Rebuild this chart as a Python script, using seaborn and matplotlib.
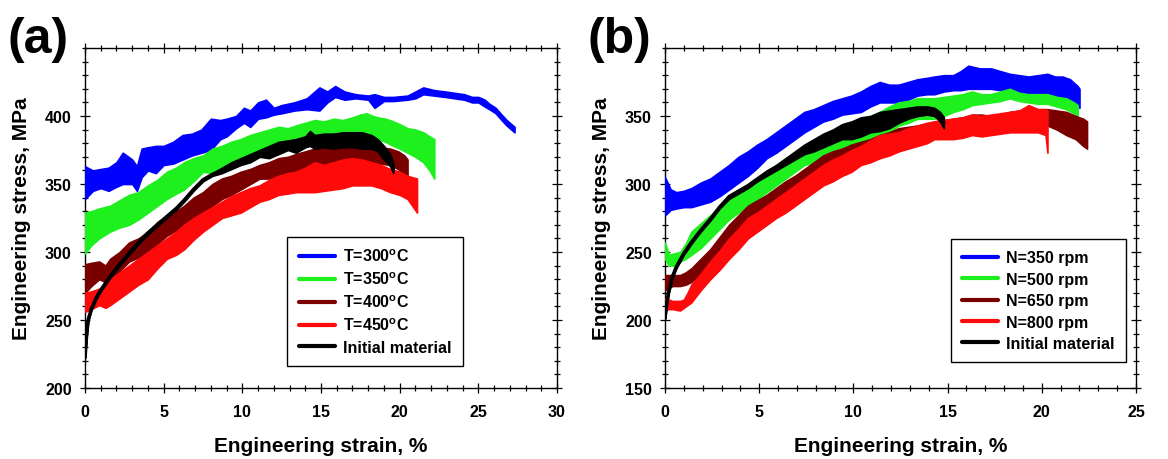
import matplotlib
matplotlib.use("Agg")
import matplotlib.pyplot as plt
import pandas as pd
import seaborn as sns
from matplotlib.lines import Line2D
from matplotlib.ticker import MultipleLocator, FixedLocator

# ---------------- (a) effect of temperature ----------------
t300_strain = [0, 0.5, 1.0, 1.5, 2.0, 2.4, 3.0, 3.3, 3.6, 4.0, 4.5, 5.0, 5.6, 6.2, 6.8, 7.4, 8.0, 8.6, 9.0, 9.6,
               10.1, 10.5, 11.0, 11.5, 12.0, 12.5, 13.3, 14.1, 14.9, 15.4, 15.9, 16.5, 17.2, 18.0, 18.4, 19.0,
               19.6, 20.5, 21.0, 21.5, 22.2, 22.9, 23.5, 24.1, 24.6, 25.0, 25.4, 25.7, 26.1, 26.4, 26.8, 27.3]
t300_hi = [363, 360, 361, 362, 366, 373, 368, 363, 376, 377, 378, 378, 381, 386, 387, 390, 398, 397, 398, 400,
           406, 404, 410, 412, 406, 408, 410, 413, 421, 418, 422, 418, 416, 415, 416, 414, 414, 415, 418, 421,
           419, 418, 417, 416, 414, 414, 412, 409, 406, 402, 397, 392]
t300_lo = [339, 345, 347, 345, 348, 350, 350, 345, 355, 360, 358, 364, 365, 368, 371, 373, 375, 383, 385, 391,
           395, 392, 398, 399, 401, 402, 404, 405, 404, 410, 414, 412, 413, 412, 406, 411, 411, 412, 413, 416,
           415, 414, 413, 412, 410, 410, 407, 405, 402, 398, 393, 388]

t350_strain = [0, 0.4, 0.9, 1.6, 2.2, 2.8, 3.4, 4.0, 4.6, 5.2, 5.8, 6.3, 6.9, 7.5, 8.1, 8.7, 9.3, 9.9, 10.5, 11.1,
               11.7, 12.3, 12.9, 13.4, 14.0, 14.6, 15.2, 15.8, 16.4, 17.0, 17.5, 17.9, 18.3, 18.6, 19.1, 19.6,
               20.0, 20.5, 21.0, 21.5, 21.9, 22.2]
t350_hi = [329, 330, 332, 334, 338, 342, 344, 349, 353, 359, 362, 366, 369, 371, 376, 378, 381, 383, 386, 388,
           390, 392, 391, 393, 395, 397, 396, 398, 397, 399, 401, 402, 400, 399, 398, 396, 394, 391, 390, 388,
           385, 383]
t350_lo = [299, 305, 310, 315, 318, 320, 324, 329, 334, 339, 343, 346, 352, 359, 358, 361, 366, 369, 371, 373,
           375, 376, 377, 378, 381, 383, 384, 386, 385, 386, 387, 388, 386, 383, 381, 378, 376, 373, 370, 366,
           360, 354]

t400_strain = [0, 0.4, 0.9, 1.3, 1.6, 2.2, 2.8, 3.4, 4.0, 4.6, 5.2, 5.8, 6.3, 6.9, 7.5, 8.1, 8.7, 9.3, 9.9, 10.5,
               11.1, 11.7, 12.3, 12.9, 13.4, 14.0, 14.6, 15.2, 15.8, 16.4, 17.0, 17.6, 18.2, 18.8, 19.4, 19.9,
               20.3, 20.5]
t400_hi = [291, 292, 293, 290, 295, 300, 307, 310, 315, 322, 327, 330, 334, 340, 344, 350, 354, 356, 359, 361,
           364, 366, 369, 370, 372, 374, 376, 377, 378, 379, 381, 380, 378, 377, 376, 374, 371, 368]
t400_lo = [270, 275, 280, 278, 280, 286, 293, 296, 300, 306, 312, 316, 320, 325, 329, 334, 339, 342, 346, 350,
           354, 354, 354, 357, 359, 360, 361, 361, 361, 362, 364, 365, 366, 365, 364, 361, 356, 352]

t450_strain = [0, 0.4, 0.9, 1.3, 1.6, 2.2, 2.8, 3.4, 4.0, 4.6, 5.2, 5.8, 6.3, 6.9, 7.5, 8.1, 8.7, 9.3, 9.9, 10.5,
               11.1, 11.7, 12.3, 12.9, 13.4, 14.0, 14.6, 15.2, 15.8, 16.4, 17.0, 17.6, 18.2, 18.8, 19.4, 20.0,
               20.5, 20.8, 21.1]
t450_hi = [270, 271, 273, 276, 280, 285, 290, 295, 300, 305, 310, 315, 320, 325, 329, 333, 337, 341, 344, 347,
           349, 353, 356, 358, 359, 362, 366, 364, 366, 368, 369, 368, 366, 364, 361, 359, 356, 355, 354]
t450_lo = [256, 258, 261, 259, 261, 266, 271, 276, 280, 288, 295, 298, 302, 309, 315, 320, 325, 327, 329, 333,
           337, 339, 342, 343, 344, 344, 344, 345, 346, 347, 349, 349, 349, 347, 344, 342, 339, 334, 329]

initA_strain = [0, 0.1, 0.2, 0.4, 0.7, 1.0, 1.6, 2.2, 2.8, 3.4, 4.0, 4.6, 5.2, 5.8, 6.3, 6.9, 7.5, 8.1, 8.7, 9.3,
                9.9, 10.5, 11.1, 11.7, 12.3, 12.9, 13.4, 14.0, 14.3, 14.6, 15.2, 15.8, 16.4, 17.0, 17.6, 18.2,
                18.6, 19.0, 19.4, 19.6]
initA_hi = [223, 240, 251, 259, 267, 273, 283, 292, 300, 308, 315, 321, 327, 333, 339, 347, 354, 358, 362, 366,
            369, 372, 375, 378, 381, 382, 383, 385, 389, 386, 387, 387, 388, 388, 388, 386, 383, 378, 372, 365]
initA_lo = [222, 238, 249, 257, 265, 271, 281, 290, 298, 306, 313, 319, 325, 331, 337, 345, 352, 356, 358, 361,
            364, 366, 370, 369, 372, 375, 373, 377, 378, 376, 377, 376, 377, 377, 376, 376, 374, 368, 363, 358]

labels_a = [r"T=300$^{\mathbf{o}}$C", r"T=350$^{\mathbf{o}}$C", r"T=400$^{\mathbf{o}}$C",
            r"T=450$^{\mathbf{o}}$C", "Initial material"]
yticks_a = [200, 250, 300, 350, 400]

# ---------------- (b) effect of rotation speed ----------------
n350_strain = [0, 0.3, 0.6, 1.0, 1.4, 1.9, 2.4, 2.9, 3.4, 3.9, 4.4, 4.9, 5.4, 5.9, 6.4, 6.9, 7.4, 7.9, 8.4, 8.9,
               9.4, 9.9, 10.4, 10.9, 11.4, 11.9, 12.4, 12.9, 13.4, 13.9, 14.3, 14.8, 15.3, 15.7, 16.1, 16.7,
               17.3, 17.8, 18.3, 18.8, 19.3, 19.8, 20.3, 20.7, 21.1, 21.5, 21.9, 22.0]
n350_hi = [305, 296, 294, 295, 297, 301, 304, 309, 314, 320, 324, 329, 333, 338, 343, 348, 353, 355, 358, 361,
           363, 365, 368, 372, 375, 373, 373, 375, 377, 378, 379, 380, 380, 383, 387, 385, 385, 383, 381, 380,
           379, 380, 381, 379, 379, 377, 372, 370]
n350_lo = [277, 281, 282, 283, 283, 285, 287, 291, 296, 301, 306, 312, 319, 323, 328, 333, 338, 342, 346, 348,
           351, 352, 353, 357, 360, 360, 360, 362, 365, 366, 366, 368, 369, 369, 370, 370, 370, 369, 369, 368,
           366, 365, 365, 364, 363, 361, 358, 356]

n500_strain = [0, 0.2, 0.5, 0.8, 1.1, 1.4, 1.9, 2.4, 2.9, 3.4, 3.9, 4.4, 4.9, 5.4, 5.9, 6.4, 6.9, 7.4, 7.9, 8.4,
               8.9, 9.4, 9.9, 10.4, 10.9, 11.4, 11.9, 12.4, 12.9, 13.4, 13.9, 14.3, 14.8, 15.3, 15.8, 16.3,
               16.8, 17.3, 17.8, 18.3, 18.8, 19.3, 19.8, 20.3, 20.8, 21.3, 21.7, 21.9]
n500_hi = [257, 248, 249, 250, 256, 265, 271, 277, 283, 289, 294, 299, 304, 309, 314, 319, 322, 326, 330, 333,
           335, 338, 342, 348, 350, 353, 357, 360, 361, 363, 363, 363, 364, 365, 366, 368, 366, 366, 368, 370,
           367, 366, 366, 366, 364, 363, 360, 358]
n500_lo = [245, 240, 240, 243, 245, 248, 253, 260, 267, 274, 279, 284, 289, 294, 299, 304, 309, 314, 316, 319,
           321, 324, 326, 328, 330, 333, 338, 343, 345, 348, 348, 348, 350, 353, 355, 358, 359, 360, 361, 363,
           361, 360, 359, 359, 357, 355, 352, 350]

n650_strain = [0, 0.4, 0.8, 1.1, 1.4, 1.9, 2.4, 2.9, 3.4, 3.9, 4.4, 4.9, 5.4, 5.9, 6.4, 6.9, 7.4, 7.9, 8.4, 8.9,
               9.4, 9.9, 10.4, 10.9, 11.4, 11.9, 12.4, 12.9, 13.4, 13.9, 14.3, 14.8, 15.3, 15.8, 16.3, 16.8,
               17.3, 17.8, 18.3, 18.8, 19.3, 19.8, 20.3, 20.8, 21.3, 21.8, 22.2, 22.4]
n650_hi = [233, 233, 233, 235, 238, 245, 252, 261, 270, 277, 284, 288, 292, 297, 302, 306, 311, 316, 321, 324,
           326, 329, 331, 333, 336, 338, 341, 342, 343, 344, 346, 347, 348, 349, 351, 351, 350, 351, 353, 354,
           355, 355, 355, 354, 353, 350, 348, 346]
n650_lo = [222, 225, 225, 226, 228, 234, 240, 248, 255, 262, 267, 273, 279, 284, 289, 293, 297, 303, 309, 311,
           314, 316, 319, 321, 324, 326, 328, 330, 333, 335, 338, 338, 338, 340, 343, 342, 343, 343, 343, 344,
           346, 345, 343, 340, 336, 333, 328, 326]

n800_strain = [0, 0.4, 0.8, 1.0, 1.2, 1.4, 1.9, 2.4, 2.9, 3.4, 3.9, 4.4, 4.9, 5.4, 5.9, 6.4, 6.9, 7.4, 7.9, 8.4,
               8.9, 9.4, 9.9, 10.4, 10.9, 11.4, 11.9, 12.4, 12.9, 13.4, 13.9, 14.3, 14.8, 15.3, 15.8, 16.3,
               16.8, 17.3, 17.8, 18.3, 18.8, 19.3, 19.8, 20.2, 20.3]
n800_hi = [216, 214, 214, 215, 220, 226, 234, 243, 251, 260, 267, 275, 279, 284, 289, 294, 299, 304, 309, 314,
           318, 321, 325, 328, 332, 336, 337, 338, 341, 343, 345, 346, 347, 348, 349, 351, 350, 351, 352, 353,
           354, 358, 355, 355, 354]
n800_lo = [208, 208, 207, 209, 211, 213, 222, 230, 237, 245, 252, 260, 265, 270, 275, 279, 284, 289, 294, 299,
           302, 306, 309, 314, 316, 319, 321, 324, 326, 328, 330, 333, 333, 333, 334, 336, 335, 336, 337, 338,
           338, 338, 338, 336, 323]

initB_strain = [0, 0.1, 0.2, 0.4, 0.6, 1.0, 1.4, 1.9, 2.4, 2.9, 3.4, 3.9, 4.4, 4.9, 5.4, 5.9, 6.4, 6.9, 7.4, 7.9,
                8.4, 8.9, 9.4, 9.9, 10.4, 10.9, 11.4, 11.9, 12.4, 12.9, 13.4, 13.9, 14.3, 14.6, 14.8]
initB_hi = [202, 214, 222, 233, 240, 250, 258, 267, 275, 284, 292, 296, 300, 305, 310, 314, 319, 324, 329, 333,
            337, 340, 344, 346, 349, 350, 353, 354, 355, 356, 357, 357, 356, 353, 349]
initB_lo = [201, 212, 220, 231, 238, 248, 256, 265, 273, 282, 289, 293, 297, 302, 306, 310, 314, 318, 322, 324,
            327, 330, 333, 333, 335, 338, 339, 341, 345, 348, 350, 351, 350, 346, 341]

labels_b = ["N=350 rpm", "N=500 rpm", "N=650 rpm", "N=800 rpm", "Initial material"]
yticks_b = [150, 200, 250, 300, 350]

colors = ["#0000FF", "#1EF01E", "#7A0000", "#FF0A0A", "#000000"]
line_widths = [1.5, 1.5, 1.5, 1.5, 2.6]

sns.set_theme(style="ticks")
plt.rcParams["font.family"] = ["Liberation Sans", "DejaVu Sans"]
plt.rcParams["font.weight"] = "bold"
plt.rcParams["axes.labelweight"] = "bold"
plt.rcParams["mathtext.fontset"] = "custom"
plt.rcParams["mathtext.rm"] = "Liberation Sans"
plt.rcParams["mathtext.bf"] = "Liberation Sans:bold"
for key in ("text.color", "axes.labelcolor", "xtick.color", "ytick.color", "axes.edgecolor"):
    plt.rcParams[key] = "black"


def long_form(strain, hi, lo):
    return pd.DataFrame({"strain": list(strain) * 2, "stress": list(hi) + list(lo)})


def draw_panel(ax, curves, labels, xmax, ymin, ymax, yticks, legend_anchor):
    for i, ((strain, hi, lo), color, lw) in enumerate(zip(curves, colors, line_widths)):
        z = 3 + i
        sns.lineplot(data=long_form(strain, hi, lo), x="strain", y="stress",
                     estimator="mean", errorbar=("pi", 100), color=color,
                     lw=lw, zorder=z,
                     err_kws={"alpha": 1, "linewidth": 1.2, "zorder": z},
                     legend=False, ax=ax)
    ax.set_xlim(0, xmax)
    ax.set_ylim(ymin, ymax)
    ax.xaxis.set_major_locator(MultipleLocator(5))
    ax.xaxis.set_minor_locator(MultipleLocator(1))
    ax.yaxis.set_major_locator(FixedLocator(yticks))
    ax.yaxis.set_minor_locator(MultipleLocator(10))
    ax.tick_params(which="both", direction="inout", top=True, right=True,
                   color="black", width=0.9, labelsize=11.5)
    ax.tick_params(which="major", length=7)
    ax.tick_params(which="minor", length=5)
    ax.tick_params(axis="x", which="major", pad=8)
    ax.tick_params(axis="y", which="major", pad=6)
    for lab in ax.get_xticklabels() + ax.get_yticklabels():
        lab.set_fontweight("bold")
    for sp in ax.spines.values():
        sp.set_color("black")
        sp.set_linewidth(1.0)
    ax.set_xlabel("Engineering strain, %", fontsize=15, fontweight="bold", labelpad=12)
    ax.set_ylabel("Engineering stress, MPa", fontsize=15, fontweight="bold", labelpad=10)
    handles = [Line2D([], [], color=c, lw=3) for c in colors]
    leg = ax.legend(handles, labels, loc="lower right", bbox_to_anchor=legend_anchor,
                    frameon=True, fancybox=False, framealpha=1, edgecolor="black",
                    prop={"size": 11.5, "weight": "bold"}, handlelength=2.3,
                    handletextpad=0.5, labelspacing=0.4, borderpad=0.7, borderaxespad=0)
    leg.get_frame().set_linewidth(1.0)
    leg.set_zorder(20)


fig = plt.figure(figsize=(11.68, 4.6), dpi=100)
axA = fig.add_axes([85 / 1168, 1 - 389 / 460, 472 / 1168, 340 / 460])
axB = fig.add_axes([665 / 1168, 1 - 389 / 460, 471 / 1168, 340 / 460])

draw_panel(axA,
           [(t300_strain, t300_hi, t300_lo), (t350_strain, t350_hi, t350_lo),
            (t400_strain, t400_hi, t400_lo), (t450_strain, t450_hi, t450_lo),
            (initA_strain, initA_hi, initA_lo)],
           labels_a, 30, 200, 450, yticks_a, (0.801, 0.065))
draw_panel(axB,
           [(n350_strain, n350_hi, n350_lo), (n500_strain, n500_hi, n500_lo),
            (n650_strain, n650_hi, n650_lo), (n800_strain, n800_hi, n800_lo),
            (initB_strain, initB_hi, initB_lo)],
           labels_b, 25, 150, 400, yticks_b, (0.979, 0.076))

fig.text(7 / 1168, 1 - 40 / 460, "(a)", fontsize=36, fontweight="bold", ha="left", va="center")
fig.text(588 / 1168, 1 - 40 / 460, "(b)", fontsize=36, fontweight="bold", ha="left", va="center")

fig.savefig("out.png", dpi=100, facecolor="white")
